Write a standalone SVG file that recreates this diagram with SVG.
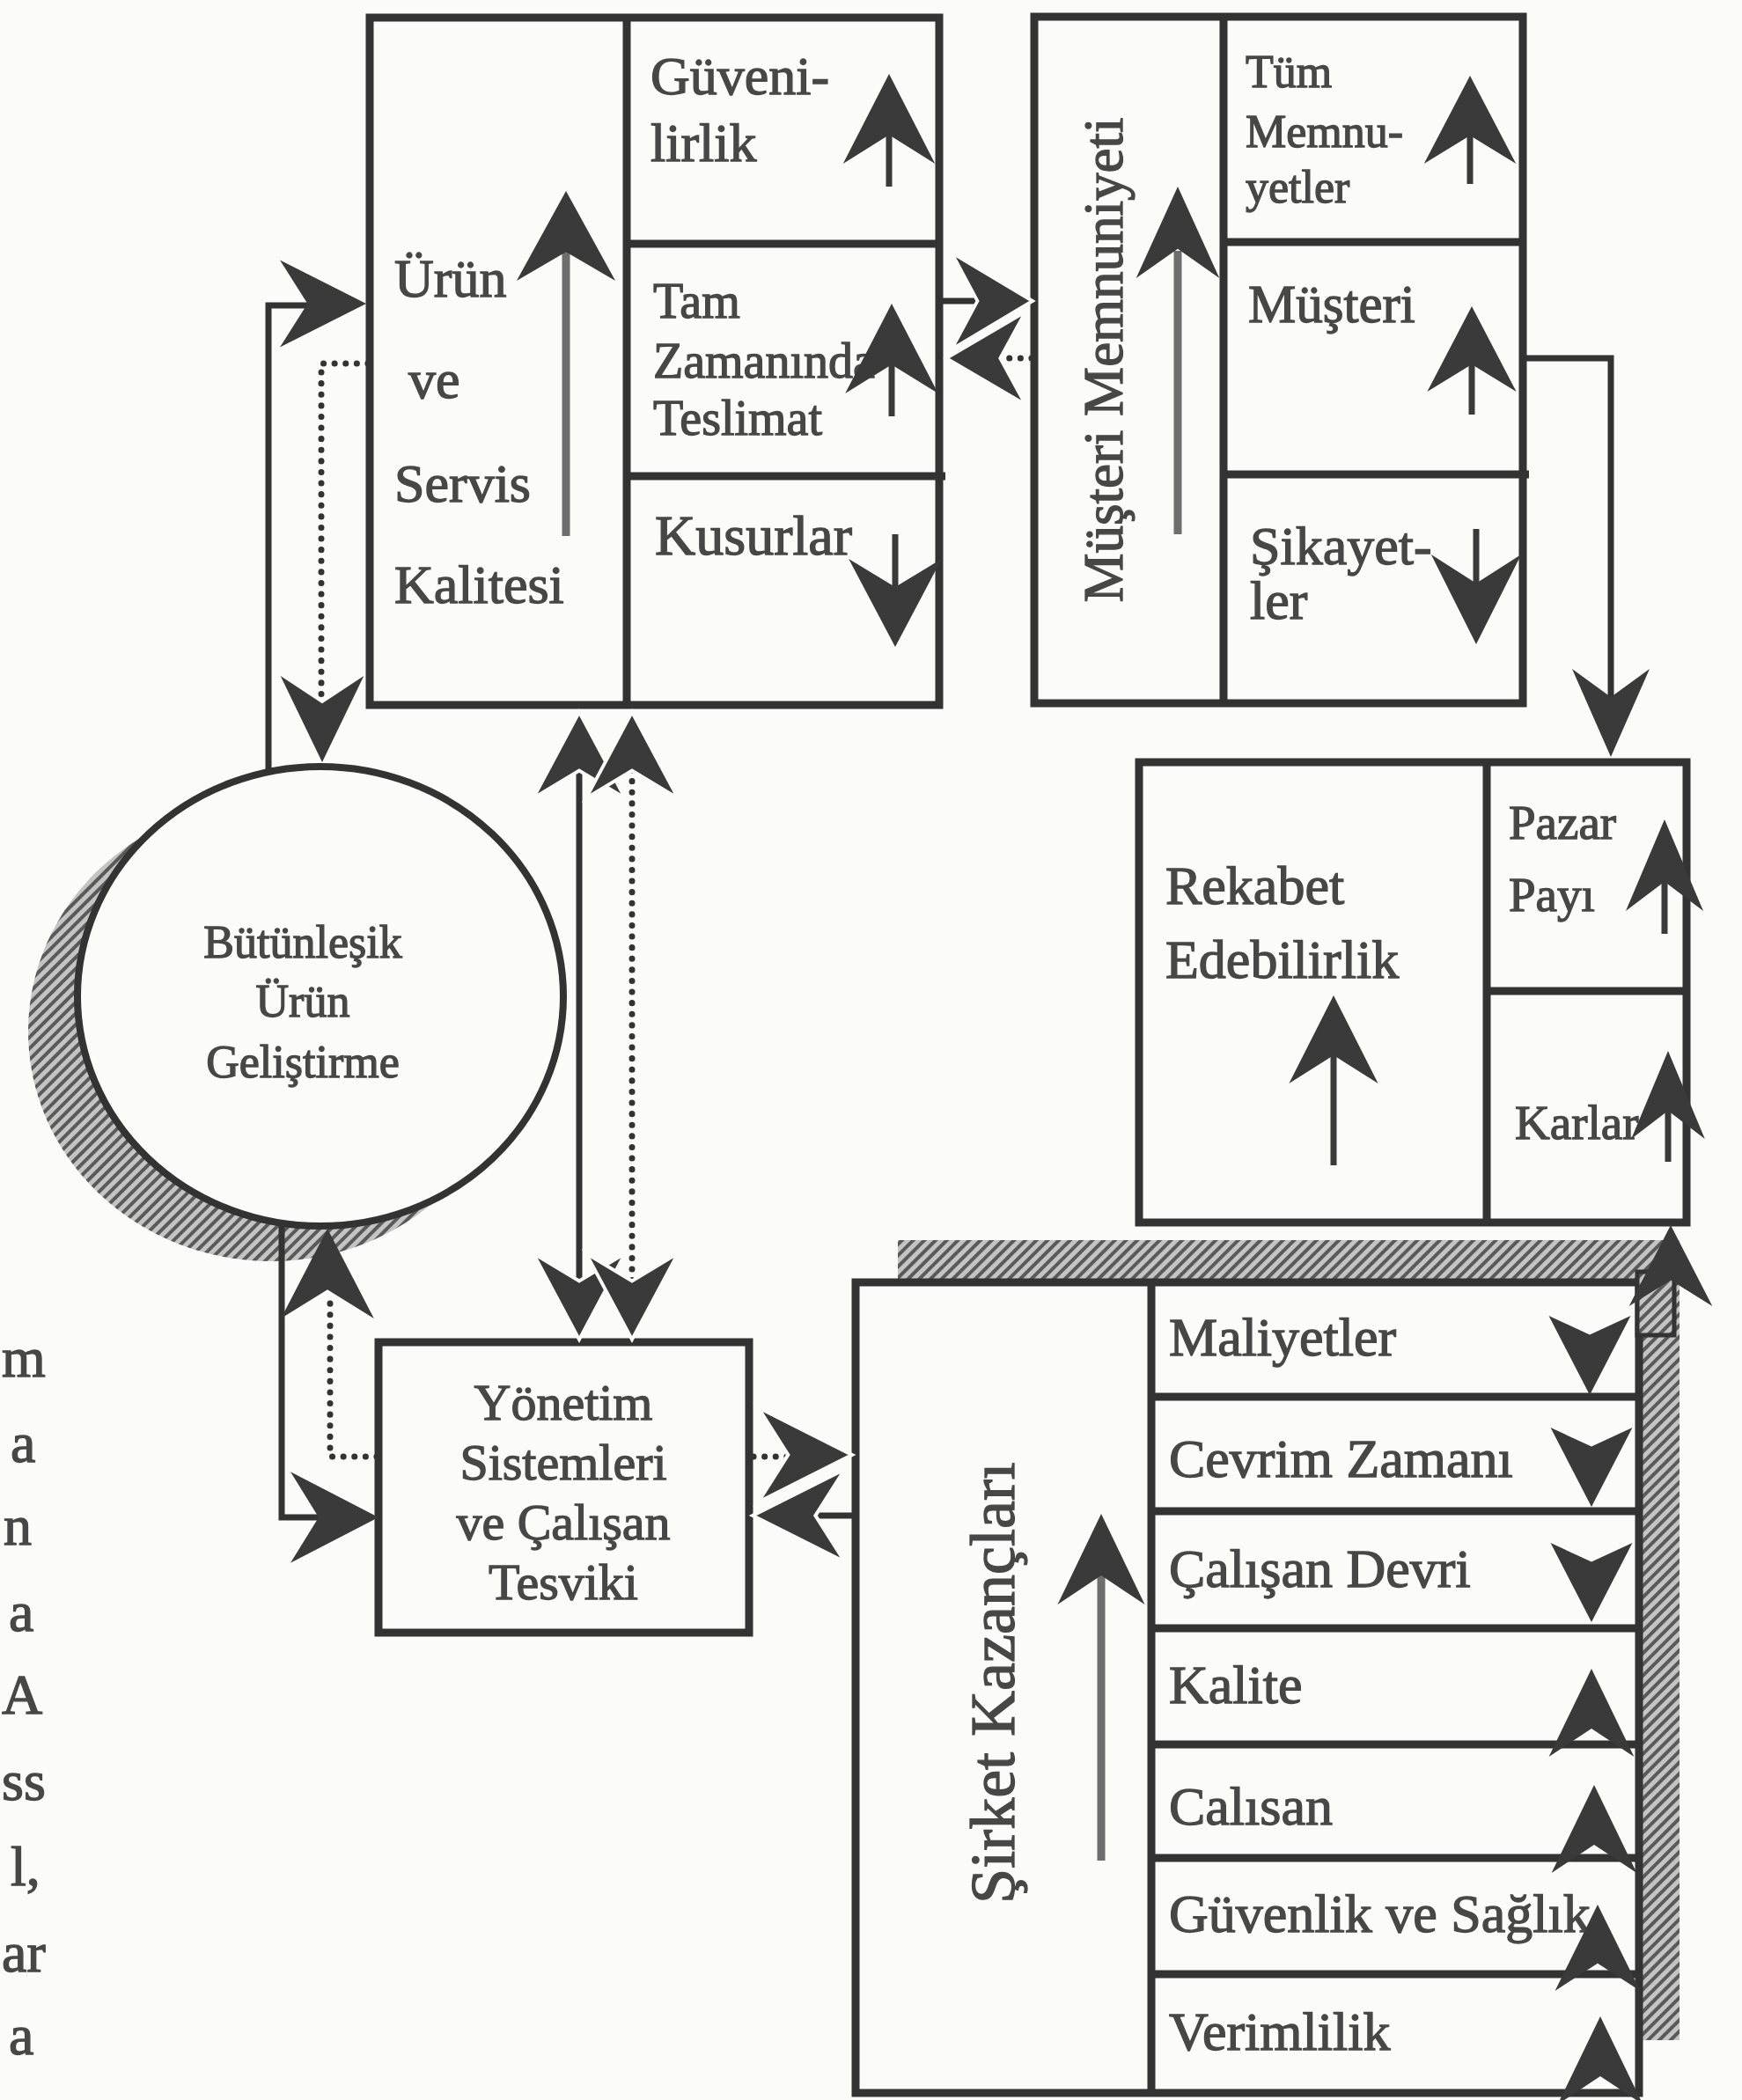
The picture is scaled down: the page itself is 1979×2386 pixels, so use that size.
<svg xmlns="http://www.w3.org/2000/svg" xmlns:xlink="http://www.w3.org/1999/xlink" width="1979" height="2386" viewBox="0 0 1979 2386">
<style>
.bx{fill:none;stroke:#333;stroke-width:9}
.ln{stroke:#333;stroke-width:9;fill:none}
.sh{stroke:#3a3a3a;stroke-width:7;fill:none}
.gs{stroke:#6e6e6e;stroke-width:9;fill:none}
.cn{stroke:#333;stroke-width:7;fill:none}
.dt{stroke:#333;stroke-width:7;fill:none;stroke-dasharray:0.1 12.5;stroke-linecap:round}
.ah{fill:#3a3a3a}
.ahw{fill:#3a3a3a;stroke:#fbfbfa;stroke-width:4}
.t{font-family:"Liberation Serif","Times New Roman",serif;fill:#474747;stroke:#474747;stroke-width:1.3}
</style>
<defs>
<path id="ah" d="M0,0 L55,100 L0,68 L-55,100 Z"/>
<path id="ah2" d="M0,0 L50,100 L0,76 L-50,100 Z"/>
<pattern id="hatch" width="9" height="9" patternUnits="userSpaceOnUse" patternTransform="rotate(45)">
<rect width="9" height="9" fill="#c4c4c4"/>
<line x1="2" y1="0" x2="2" y2="9" stroke="#5a5a5a" stroke-width="4"/>
</pattern>
</defs>
<rect x="0" y="0" width="1979" height="2386" fill="#fbfbfa"/>

<g id="page-text-fragments" class="t" font-size="64">
<text x="2" y="1564">m</text>
<text x="12" y="1661">a</text>
<text x="4" y="1755">n</text>
<text x="10" y="1853">a</text>
<text x="2" y="1947">A</text>
<text x="2" y="2045">ss</text>
<text x="12" y="2142">l,</text>
<text x="2" y="2240">ar</text>
<text x="10" y="2334">a</text>
</g>

<g id="node-butunlesik">
<ellipse cx="308" cy="1172" rx="276" ry="261" fill="url(#hatch)"/>
<ellipse cx="364" cy="1132" rx="276" ry="261" fill="#fbfbfa" stroke="#333" stroke-width="8"/>
<g class="t" font-size="52" text-anchor="middle">
<text x="344" y="1088">Bütünleşik</text>
<text x="344" y="1155">Ürün</text>
<text x="344" y="1224">Geliştirme</text>
</g>
</g>

<g id="node-urun-servis-kalitesi">
<rect class="bx" x="420" y="20" width="647" height="781"/>
<line class="ln" x1="712" y1="20" x2="712" y2="801"/>
<line class="ln" x1="712" y1="277" x2="1067" y2="277"/>
<line class="ln" x1="712" y1="541" x2="1074" y2="541"/>
<g class="t" font-size="62">
<text x="448" y="337">Ürün</text>
<text x="464" y="452">ve</text>
<text x="448" y="570">Servis</text>
<text x="448" y="685">Kalitesi</text>
<text x="739" y="107">Güveni-</text>
<text x="739" y="183">lirlik</text>
</g>
<g class="t" font-size="56">
<text x="742" y="361">Tam</text>
<text x="742" y="429">Zamanında</text>
<text x="742" y="494">Teslimat</text>
</g>
<text class="t" font-size="64" x="744" y="630">Kusurlar</text>
<line class="gs" x1="643" y1="280" x2="643" y2="609"/>
<use href="#ah" class="ah" transform="translate(643,217) scale(1.02,1.02)"/>
<line class="sh" x1="1010" y1="150" x2="1010" y2="212"/>
<use href="#ah" class="ah" transform="translate(1010,84) scale(0.95,1.02)"/>
<line class="sh" x1="1013" y1="410" x2="1013" y2="473"/>
<use href="#ah" class="ah" transform="translate(1013,345) scale(0.96,1.02)"/>
<line class="sh" x1="1017" y1="607" x2="1017" y2="670"/>
<use href="#ah" class="ah" transform="translate(1017,735) rotate(180) scale(0.96,1)"/>
</g>

<g id="node-musteri-memnuniyeti">
<rect class="bx" x="1175" y="19" width="555" height="780"/>
<line class="ln" x1="1390" y1="19" x2="1390" y2="799"/>
<line class="ln" x1="1390" y1="275" x2="1730" y2="275"/>
<line class="ln" x1="1390" y1="539" x2="1737" y2="539"/>
<text class="t" font-size="63" text-anchor="middle" x="1275" y="409" transform="rotate(-90 1275 409)">Müşteri Memnuniyeti</text>
<g class="t" font-size="52">
<text x="1415" y="99">Tüm</text>
<text x="1415" y="167">Memnu-</text>
<text x="1415" y="230">yetler</text>
</g>
<text class="t" font-size="61" x="1418" y="366">Müşteri</text>
<g class="t" font-size="62">
<text x="1420" y="641">Şikayet-</text>
<text x="1420" y="703">ler</text>
</g>
<line class="gs" x1="1338" y1="285" x2="1338" y2="607"/>
<use href="#ah" class="ah" transform="translate(1338,212) scale(0.86,1.04)"/>
<line class="sh" x1="1670" y1="150" x2="1670" y2="209"/>
<use href="#ah" class="ah" transform="translate(1670,86) scale(0.95,1)"/>
<line class="sh" x1="1672" y1="410" x2="1672" y2="471"/>
<use href="#ah" class="ah" transform="translate(1672,348) scale(0.92,0.97)"/>
<line class="sh" x1="1677" y1="601" x2="1677" y2="665"/>
<use href="#ah" class="ah" transform="translate(1677,732) rotate(180) scale(0.93,1.02)"/>
</g>

<g id="node-rekabet-edebilirlik">
<rect class="bx" x="1294" y="866" width="622" height="523"/>
<line class="ln" x1="1689" y1="866" x2="1689" y2="1389"/>
<line class="ln" x1="1689" y1="1126" x2="1916" y2="1126"/>
<g class="t" font-size="62">
<text x="1324" y="1027">Rekabet</text>
<text x="1324" y="1111">Edebilirlik</text>
</g>
<g class="t" font-size="55">
<text x="1714" y="953">Pazar</text>
<text x="1714" y="1035">Payı</text>
<text x="1721" y="1294">Karlar</text>
</g>
<line class="sh" x1="1515" y1="1195" x2="1515" y2="1324"/>
<use href="#ah" class="ah" transform="translate(1515,1131) scale(0.92,1)"/>
<line class="sh" x1="1891" y1="1000" x2="1891" y2="1061"/>
<use href="#ah" class="ah" transform="translate(1891,931) scale(0.8,1.04)"/>
<line class="sh" x1="1895" y1="1262" x2="1895" y2="1320"/>
<use href="#ah" class="ah" transform="translate(1895,1194) scale(0.76,1)"/>
</g>

<g id="node-sirket-kazanclari">
<rect x="1020" y="1409" width="888" height="909" fill="url(#hatch)"/>
<rect x="972" y="1457" width="890" height="921" fill="#fbfbfa" stroke="#333" stroke-width="9"/>
<line class="ln" x1="1308" y1="1457" x2="1308" y2="2378"/>
<line class="ln" x1="1308" y1="1587" x2="1862" y2="1587"/>
<line class="ln" x1="1308" y1="1717" x2="1862" y2="1717"/>
<line class="ln" x1="1308" y1="1850" x2="1862" y2="1850"/>
<line class="ln" x1="1308" y1="1982" x2="1862" y2="1982"/>
<line class="ln" x1="1308" y1="2111" x2="1862" y2="2111"/>
<line class="ln" x1="1308" y1="2243" x2="1862" y2="2243"/>
<text class="t" font-size="72" text-anchor="middle" x="1152" y="1912" transform="rotate(-90 1152 1912)">Şirket Kazançları</text>
<g class="t" font-size="62">
<text x="1328" y="1540">Maliyetler</text>
<text x="1328" y="1678">Cevrim Zamanı</text>
<text x="1328" y="1803">Çalışan Devri</text>
<text x="1328" y="1935">Kalite</text>
<text x="1328" y="2073">Calısan</text>
<text x="1328" y="2195">Güvenlik ve Sağlık</text>
<text x="1328" y="2329">Verimlilik</text>
</g>
<line class="gs" x1="1251" y1="1785" x2="1251" y2="2114"/>
<use href="#ah" class="ah" transform="translate(1251,1720) scale(0.9,1.03)"/>
<use href="#ah2" class="ah" transform="translate(1806,1585) rotate(180) scale(0.93,0.9)"/>
<use href="#ah2" class="ah" transform="translate(1808,1712) rotate(180) scale(0.93,0.9)"/>
<use href="#ah2" class="ah" transform="translate(1808,1843) rotate(180) scale(0.93,0.9)"/>
<use href="#ah" class="ah" transform="translate(1808,1896) scale(0.88,1)"/>
<use href="#ah" class="ah" transform="translate(1811,2028) scale(0.88,1)"/>
<use href="#ah" class="ah" transform="translate(1815,2164) scale(0.88,0.98)"/>
<use href="#ah" class="ah" transform="translate(1818,2291) scale(0.88,1)"/>
</g>

<g id="node-yonetim-sistemleri">
<rect class="bx" x="430" y="1525" width="421" height="330"/>
<g class="t" font-size="58" text-anchor="middle">
<text x="640" y="1613">Yönetim</text>
<text x="640" y="1681">Sistemleri</text>
<text x="640" y="1749">ve Çalışan</text>
<text x="640" y="1817">Tesviki</text>
</g>
</g>

<g id="connectors">
<polyline class="cn" points="305,876 305,347 372,347"/>
<use href="#ah" class="ah" transform="translate(416,345) rotate(90) scale(0.9,0.98)"/>
<polyline class="dt" points="418,413 365,413 365,800"/>
<use href="#ah" class="ah" transform="translate(366,866) rotate(180) scale(0.86,0.98)"/>
<line class="cn" x1="658" y1="860" x2="658" y2="1470"/>
<use href="#ah" class="ahw" transform="translate(658,809) scale(0.95,0.98)"/>
<use href="#ah" class="ahw" transform="translate(658,1522) rotate(180) scale(0.95,0.98)"/>
<line class="dt" x1="718" y1="875" x2="718" y2="1455"/>
<use href="#ah" class="ahw" transform="translate(718,809) scale(0.95,0.98)"/>
<use href="#ah" class="ahw" transform="translate(718,1522) rotate(180) scale(0.95,0.98)"/>
<line class="cn" x1="1070" y1="342" x2="1120" y2="342"/>
<use href="#ah" class="ahw" transform="translate(1173,342) rotate(90) scale(1,0.92)"/>
<line class="dt" x1="1172" y1="407" x2="1138" y2="407"/>
<use href="#ah" class="ahw" transform="translate(1075,407) rotate(-90) scale(0.96,0.9)"/>
<polyline class="cn" points="1732,407 1830,407 1830,800"/>
<use href="#ah" class="ah" transform="translate(1830,860) rotate(180) scale(0.8,1)"/>
<rect x="1860" y="1445" width="42" height="72" fill="url(#hatch)" stroke="#333" stroke-width="5"/>
<use href="#ah" class="ah" transform="translate(1898,1392) scale(0.86,0.92)"/>
<line class="dt" x1="856" y1="1655" x2="900" y2="1655"/>
<use href="#ah" class="ahw" transform="translate(968,1653) rotate(90) scale(0.98,1.07)"/>
<line class="cn" x1="970" y1="1722" x2="925" y2="1722"/>
<use href="#ah" class="ahw" transform="translate(855,1722) rotate(-90) scale(0.96,1.05)"/>
<polyline class="cn" points="320,1390 320,1724 380,1724"/>
<use href="#ah" class="ah" transform="translate(430,1724) rotate(90) scale(0.94,1)"/>
<polyline class="dt" points="428,1655 375,1655 375,1470"/>
<use href="#ah" class="ah" transform="translate(372,1396) scale(0.96,1.02)"/>
</g>
</svg>
